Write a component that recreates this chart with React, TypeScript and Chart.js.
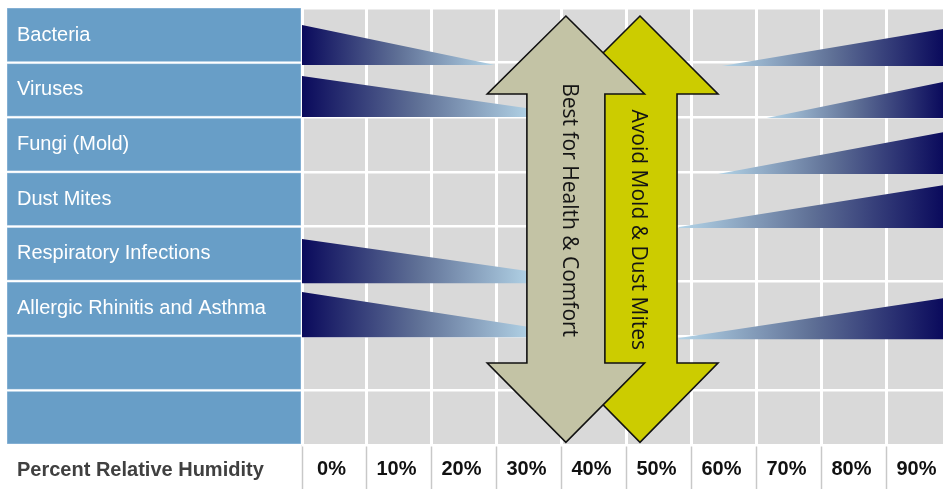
import React, { useEffect, useRef } from 'react';
import { Chart, registerables } from 'chart.js';

Chart.register(...registerables);

// ---- categories / ticks ----
const rowLabels = ['Bacteria', 'Viruses', 'Fungi (Mold)', 'Dust Mites', 'Respiratory Infections', 'Allergic Rhinitis and Asthma', '', ''];
const humidityTicks = [0, 10, 20, 30, 40, 50, 60, 70, 80, 90];
const humidityLabels = ['0%', '10%', '20%', '30%', '40%', '50%', '60%', '70%', '80%', '90%'];
const axisTitle = 'Percent Relative Humidity';
const humidityMax = 98.62;

// ---- risk wedges (x in % RH, y in row units, 0 = top of first row) ----
const wedgeNames = ['Bacteria low', 'Bacteria high', 'Viruses low', 'Viruses high', 'Fungi high', 'Dust Mites high', 'Respiratory low', 'Allergic low', 'Allergic high'];
const wedgeWideX = [0, 98.7, 0, 98.7, 98.7, 98.7, 0, 0, 98.7];
const wedgeEndX = [29.7, 64.6, 35.5, 71.5, 64.0, 58.0, 35.5, 35.5, 58.0];
const wedgeWideTop = [0.311, 0.385, 1.245, 1.355, 2.271, 3.242, 4.23, 5.2, 5.311];
const wedgeEndTop = [1.044, 1.062, 1.85, 2.015, 3.04, 4.01, 4.83, 5.85, 6.04];
const wedgeBottom = [1.044, 1.062, 1.996, 2.015, 3.04, 4.029, 5.037, 6.026, 6.062];

// ---- recommended ranges (double arrows) ----
const arrowLabels = ['Best for Health & Comfort', 'Avoid Mold & Dust Mites'];
const arrowCenterX = [40.6, 52.0];
const arrowHeadHalf = [12.1, 12.0];
const arrowShaftHalf = [6.0, 5.7];
const arrowTipTop = [0.147, 0.147];
const arrowHeadBaseTop = [1.575, 1.575];
const arrowHeadBaseBottom = [6.5, 6.5];
const arrowTipBottom = [7.95, 7.95];
const arrowTextX = [41.0, 51.7];
const arrowTextY = [3.7, 4.06];
const arrowColors = ['#c3c3a5', '#cccc00'];

const FONT = '"Liberation Sans", Arial, sans-serif';

export default function App() {
  const ref = useRef<HTMLCanvasElement>(null);

  useEffect(() => {
    const canvas = ref.current;
    if (!canvas) return;

    const bgPlugin = {
      id: 'bg',
      beforeDraw(chart: any) {
        const { ctx, chartArea } = chart;
        const yv = chart.scales.yv;
        ctx.save();
        ctx.fillStyle = '#ffffff';
        ctx.fillRect(0, 0, chart.width, chart.height);
        ctx.fillStyle = '#d9d9d9';
        ctx.fillRect(chartArea.left, chartArea.top, chartArea.right - chartArea.left, chartArea.bottom - chartArea.top);
        // left label panel
        for (let i = 0; i < rowLabels.length; i++) {
          const t = yv.getPixelForValue(i);
          const b = yv.getPixelForValue(i + 1);
          ctx.fillStyle = '#9fc1df';
          ctx.fillRect(7, t + (i === 0 ? 0 : 1), chartArea.left - 8, b - t - (i === 0 ? 1 : 2));
          ctx.fillStyle = '#689ec7';
          ctx.fillRect(7.5, t + (i === 0 ? 0.5 : 1.5), chartArea.left - 9, b - t - (i === 0 ? 2 : 3));
        }
        ctx.restore();
      },
    };

    const arrowPlugin = {
      id: 'arrows',
      afterDatasetsDraw(chart: any) {
        const { ctx } = chart;
        const x = chart.scales.x;
        const yv = chart.scales.yv;
        ctx.save();
        for (let k = arrowLabels.length - 1; k >= 0; k--) {
          const cx = arrowCenterX[k];
          const H = arrowHeadHalf[k];
          const S = arrowShaftHalf[k];
          const pts: [number, number][] = [
            [cx, arrowTipTop[k]],
            [cx + H, arrowHeadBaseTop[k]],
            [cx + S, arrowHeadBaseTop[k]],
            [cx + S, arrowHeadBaseBottom[k]],
            [cx + H, arrowHeadBaseBottom[k]],
            [cx, arrowTipBottom[k]],
            [cx - H, arrowHeadBaseBottom[k]],
            [cx - S, arrowHeadBaseBottom[k]],
            [cx - S, arrowHeadBaseTop[k]],
            [cx - H, arrowHeadBaseTop[k]],
          ];
          ctx.beginPath();
          pts.forEach(([px, py], i) => {
            const X = x.getPixelForValue(px);
            const Y = yv.getPixelForValue(py);
            if (i === 0) ctx.moveTo(X, Y);
            else ctx.lineTo(X, Y);
          });
          ctx.closePath();
          ctx.fillStyle = arrowColors[k];
          ctx.fill();
          ctx.lineWidth = 1.6;
          ctx.lineJoin = 'miter';
          ctx.strokeStyle = '#111111';
          ctx.stroke();
        }
        for (let k = 0; k < arrowLabels.length; k++) {
          ctx.save();
          ctx.translate(x.getPixelForValue(arrowTextX[k]), yv.getPixelForValue(arrowTextY[k]));
          ctx.rotate(Math.PI / 2);
          ctx.font = '21px "Open Sans", "DejaVu Sans", sans-serif';
          ctx.fillStyle = '#141414';
          ctx.textAlign = 'center';
          ctx.textBaseline = 'middle';
          ctx.fillText(arrowLabels[k], 0, 0);
          ctx.restore();
        }
        ctx.restore();
      },
      afterDraw(chart: any) {
        const { ctx, chartArea } = chart;
        ctx.save();
        ctx.font = 'bold 20px ' + FONT;
        ctx.fillStyle = '#404040';
        ctx.textAlign = 'left';
        ctx.textBaseline = 'middle';
        ctx.fillText(axisTitle, 17, chartArea.bottom + 25);
        ctx.restore();
      },
    };

    const wedgeGradient = (c: any) => {
      const chart = c.chart;
      const ds = c.dataset;
      if (!chart.chartArea || !ds) return '#3a4a7a';
      const xs = chart.scales.x;
      const x0 = xs.getPixelForValue(ds.wideX);
      const x1 = xs.getPixelForValue(ds.endX);
      const g = chart.ctx.createLinearGradient(x0, 0, x1, 0);
      g.addColorStop(0, '#0a0a5c');
      g.addColorStop(0.5, '#5f7096');
      g.addColorStop(1, '#b3d4e7');
      return g;
    };

    const datasets = wedgeNames.map((name, i) => ({
      label: name,
      wideX: wedgeWideX[i],
      endX: wedgeEndX[i],
      data: [
        { x: wedgeWideX[i], y: wedgeBottom[i] },
        { x: wedgeWideX[i], y: wedgeWideTop[i] },
        { x: wedgeEndX[i], y: wedgeEndTop[i] },
        { x: wedgeEndX[i], y: wedgeBottom[i] },
      ],
      xAxisID: 'x',
      yAxisID: 'yv',
      showLine: true,
      fill: 'shape',
      borderWidth: 0,
      borderColor: 'rgba(0,0,0,0)',
      pointRadius: 0,
      tension: 0,
      backgroundColor: wedgeGradient,
    }));

    const chart = new Chart(canvas, {
      type: 'scatter',
      data: { labels: rowLabels, datasets: datasets as any },
      options: {
        animation: false,
        responsive: false,
        devicePixelRatio: 1,
        events: [],
        layout: { padding: { left: 17, top: 8, right: 0, bottom: 0 } },
        plugins: { legend: { display: false }, tooltip: { enabled: false } },
        scales: {
          x: {
            type: 'linear',
            position: 'bottom',
            min: 0,
            max: humidityMax,
            afterBuildTicks: (s: any) => {
              s.ticks = humidityTicks.map((v) => ({ value: v }));
            },
            afterFit: (s: any) => {
              s.height = 44;
              s.paddingLeft = 0;
              s.paddingRight = 0;
            },
            border: { display: false },
            grid: {
              color: '#ffffff',
              lineWidth: 3,
              drawTicks: true,
              tickLength: 44,
              tickColor: '#c8c8c8',
              tickWidth: 1.5,
            },
            ticks: {
              autoSkip: false,
              maxRotation: 0,
              labelOffset: 29.5,
              padding: -32,
              color: '#111111',
              font: { family: FONT, size: 20, weight: 'bold' },
              callback: (_v: any, i: number) => humidityLabels[i],
            },
          },
          y: {
            type: 'category',
            position: 'left',
            labels: rowLabels,
            offset: true,
            afterFit: (s: any) => {
              s.width = 285;
              s.paddingTop = 0;
              s.paddingBottom = 0;
            },
            border: { display: false },
            grid: { color: '#ffffff', lineWidth: 2.5, drawTicks: false, offset: true },
            ticks: {
              autoSkip: false,
              crossAlign: 'far',
              padding: 0,
              color: '#ffffff',
              font: { family: FONT, size: 20 },
            },
          },
          yv: {
            type: 'linear',
            display: false,
            min: 0,
            max: 8,
            reverse: true,
          },
        },
      } as any,
      plugins: [bgPlugin, arrowPlugin],
    });

    return () => chart.destroy();
  }, []);

  return (
    <div style={{ position: 'absolute', left: 0, top: 0, width: 943, height: 489 }}>
      <canvas ref={ref} width={943} height={489} style={{ display: 'block', width: '943px', height: '489px' }} />
    </div>
  );
}
